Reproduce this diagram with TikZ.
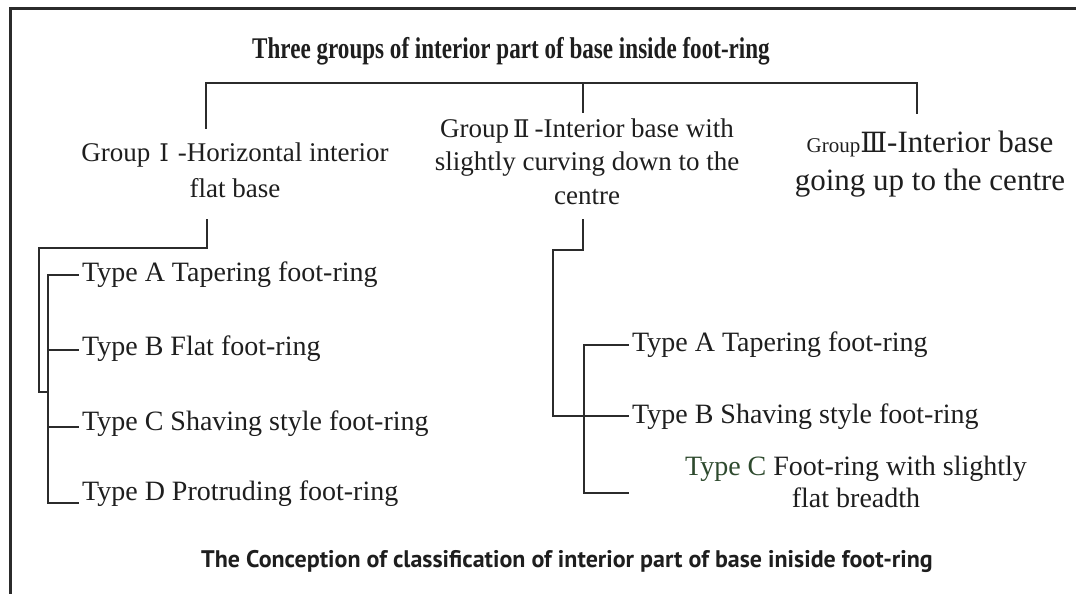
\documentclass[tikz,border=0pt]{standalone}
\usepackage{fontspec}
\setmainfont{Liberation Serif}
\newfontfamily\numfont[Scale=0.9]{DejaVu Serif}
\newfontfamily\capfont{PT Sans}
\newfontfamily\titlefont[FakeStretch=0.77]{Liberation Serif}
\definecolor{linec}{HTML}{2B2B2B}
\definecolor{textc}{HTML}{1E1E1E}
\definecolor{tgreen}{HTML}{2E4A2E}
\tikzset{
  frame/.style={draw=linec, line width=3pt},
  conn/.style={draw=linec, line width=2pt, line cap=rect, line join=miter},
  grouptext/.style={align=center, text=textc, inner sep=0pt},
  typetext/.style={anchor=west, text=textc, inner xsep=4pt, inner ysep=0pt, font=\fontsize{28}{32}\selectfont},
}
\begin{document}
\begin{tikzpicture}[x=1pt, y=-1pt]
\useasboundingbox (0,0) rectangle (1076,594);
% frame
\coordinate (fTR) at (1076,9);
\coordinate (fTL) at (10,9);
\coordinate (fBL) at (10,594);
\draw[frame] (fTR) -- (fTL) -- (fBL);

% title
\node[anchor=base, text=textc, inner sep=0pt, font=\titlefont\bfseries\fontsize{30}{30}\selectfont] (title) at (511,59) {Three groups of interior part of base inside foot-ring};

% groups (anchor=base is the baseline of the last line)
\node[grouptext, anchor=base, font=\fontsize{27}{36}\selectfont] (g1) at (235,197) {Group\hspace{9pt}{\numfont Ⅰ}\hspace{9pt}-Horizontal interior\\flat base};
\node[grouptext, anchor=base, font=\fontsize{27}{33.5}\selectfont] (g2) at (587,204) {Group\hspace{4pt}{\numfont Ⅱ}\hspace{5pt}-Interior base with\\slightly curving down to the\\centre};
\node[grouptext, anchor=base, font=\fontsize{31}{38}\selectfont] (g3) at (930,190) {{\fontsize{21}{21}\selectfont Group}{\numfont Ⅲ}-Interior base\\going up to the centre};

% top bracket
\coordinate (h1) at (206,83);
\coordinate (h2) at (583,83);
\coordinate (h3) at (917,83);
\coordinate (e1) at (206,128);
\coordinate (e2) at (583,112);
\coordinate (e3) at (917,113);
\draw[conn] (e1) -- (h1) -- (h3) -- (e3);
\draw[conn] (h2) -- (e2);

% left types
\node[typetext] (lA) at (78,275) {Type A Tapering foot-ring};
\node[typetext] (lB) at (78,349) {Type B Flat foot-ring};
\node[typetext] (lC) at (78,424) {Type C Shaving style foot-ring};
\node[typetext] (lD) at (78,494) {Type D Protruding foot-ring};

\coordinate (d1) at (207,220);
\coordinate (c1) at (207,248);
\coordinate (c2) at (39,248);
\coordinate (c3) at (39,392);
\coordinate (c4) at (48,392);
\draw[conn] (d1) -- (c1) -- (c2) -- (c3) -- (c4);
\coordinate (lvA) at (48,275);
\coordinate (lvB) at (48,350);
\coordinate (lvC) at (48,427);
\coordinate (lvD) at (48,503);
\draw[conn] (lvA) -- (lvD);
\draw[conn] (lvA) -- (lA.west |- lvA);
\draw[conn] (lvB) -- (lB.west |- lvB);
\draw[conn] (lvC) -- (lC.west |- lvC);
\draw[conn] (lvD) -- (lD.west |- lvD);

% right types
\node[typetext] (rA) at (628,345) {Type A Tapering foot-ring};
\node[typetext] (rB) at (628,417) {Type B Shaving style foot-ring};
\node[grouptext, anchor=base, font=\fontsize{28}{32}\selectfont] (rC) at (856,507) {{\color{tgreen}Type C} Foot-ring with slightly\\flat breadth};

\coordinate (d2) at (583,220);
\coordinate (r1) at (583,250);
\coordinate (r2) at (553,250);
\coordinate (r3) at (553,416);
\draw[conn] (d2) -- (r1) -- (r2) -- (r3) -- (rB.west |- r3);
\coordinate (rvA) at (584,345);
\coordinate (rvC) at (584,493);
\coordinate (rtC) at (628,493);
\draw[conn] (rvA) -- (rvC) -- (rtC);
\draw[conn] (rvA) -- (rA.west |- rvA);

% caption
\node[anchor=base, text=textc, inner sep=0pt, font=\capfont\bfseries\fontsize{24}{24}\selectfont] (cap) at (567,567) {The Conception of classification of interior part of base iniside foot-ring};
\end{tikzpicture}
\end{document}
